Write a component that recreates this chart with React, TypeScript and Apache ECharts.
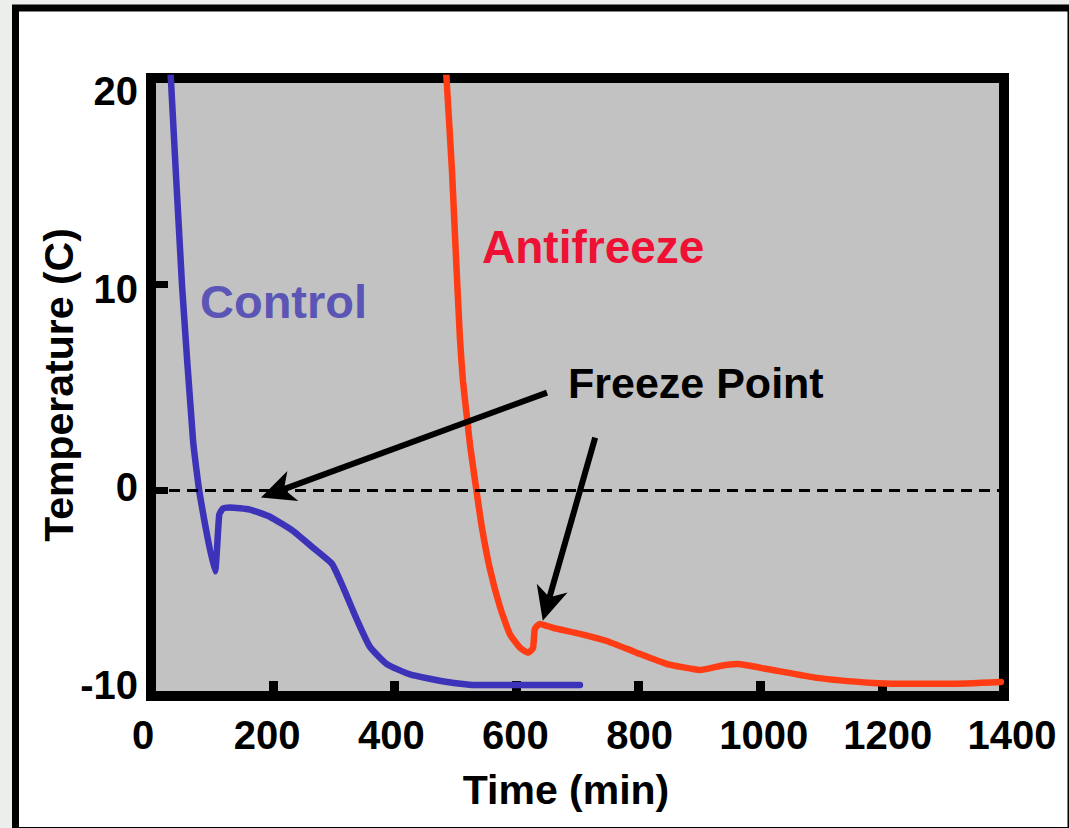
import React, { useEffect, useRef } from "react";
import * as echarts from "echarts";

// ---- data ----
const xTickValues = [0, 200, 400, 600, 800, 1000, 1200, 1400];
const yTickValues = [-10, 0, 10, 20];

const controlTime = [32, 51, 69, 80, 105, 112, 118, 130, 162, 195, 233, 266, 297, 315, 338, 359, 387, 425, 486, 530, 704];
const controlTemp = [20.3, 9.9, 2.4, -0.2, -3.95, -1.2, -0.9, -0.85, -0.95, -1.3, -1.98, -2.8, -3.58, -4.7, -6.3, -7.6, -8.45, -8.95, -9.32, -9.46, -9.46];

const antiTime = [484, 494, 499, 507, 512, 519, 524, 535, 543, 556, 573, 589, 606, 619, 627, 630, 638, 660, 704, 748, 798, 847, 890, 901, 934, 962, 1011, 1093, 1185, 1229, 1311, 1395];
const antiTemp = [20.5, 15.5, 12.3, 7.4, 5.3, 3.4, 2.1, -0.2, -1.8, -3.8, -5.7, -7.0, -7.67, -7.9, -7.67, -6.74, -6.5, -6.69, -6.98, -7.33, -7.91, -8.45, -8.69, -8.74, -8.54, -8.45, -8.69, -9.12, -9.37, -9.41, -9.41, -9.32];

const freezeLevel = 0;

// annotation arrows (data space): from -> to (tip)
const arrowFrom = [[650, 4.73], [729, 2.54]];
const arrowTo = [[180.5, -0.37], [643, -6.35]];

const FONT = '"Liberation Sans", Arial, Helvetica, sans-serif';

export default function App() {
  const ref = useRef<HTMLDivElement>(null);

  useEffect(() => {
    if (!ref.current) return;
    const chart = echarts.init(ref.current, undefined, { renderer: "svg" });

    const xMin = xTickValues[0];
    const xMax = xTickValues[xTickValues.length - 1];
    const yMin = yTickValues[0];
    const yMax = yTickValues[yTickValues.length - 1];

    const textEl = (id: string, text: string, x: number, y: number, size: number, fill: string, align: string, rotation = 0) => ({
      id,
      type: "text",
      z: 100,
      x,
      y,
      rotation,
      silent: true,
      style: {
        text,
        fill,
        font: `bold ${size}px ${FONT}`,
        align,
        verticalAlign: "middle",
        textAlign: align,
        textVerticalAlign: "middle",
      },
    });

    const baseGraphics: any[] = [
      {
        id: "outer",
        type: "rect",
        z: -100,
        silent: true,
        shape: { x: 15.5, y: 8, width: 1071 - 15.5, height: 830.5 - 8 },
        style: { fill: "#ffffff", stroke: "#000000", lineWidth: 7 },
      },
      textEl("ytitle", "Temperature (C)", 59, 385, 41, "#000", "center", Math.PI / 2),
      textEl("xtitle", "Time (min)", 566, 790, 41, "#000", "center"),
      textEl("lblControl", "Control", 200, 301.5, 47, "#5b55b5", "left"),
      textEl("lblAnti", "Antifreeze", 482, 247, 46, "#ee1133", "left"),
      textEl("lblFreeze", "Freeze Point", 568, 383, 43, "#000", "left"),
    ];

    const labelStyle = {
      color: "#000",
      fontWeight: "bold" as const,
      fontSize: 40,
      fontFamily: FONT,
      formatter: (v: number) => String(v),
    };

    chart.setOption({
      animation: false,
      backgroundColor: "#eceeec",
      grid: [
        {
          left: 151,
          top: 78,
          width: 853,
          height: 618,
          show: true,
          backgroundColor: "#c2c2c2",
          borderColor: "#000",
          borderWidth: 10,
          outerBoundsMode: "none",
        },
        {
          left: 143,
          top: 91,
          width: 869,
          height: 594,
          show: false,
          outerBoundsMode: "none",
        },
      ],
      xAxis: [
        {
          gridIndex: 0,
          type: "value",
          position: "bottom",
          min: xMin,
          max: xMax,
          interval: 200,
          axisLine: { show: false, onZero: false },
          axisTick: { show: true, inside: true, length: 15, lineStyle: { color: "#000", width: 9 } },
          axisLabel: { show: false },
          splitLine: { show: false },
        },
        {
          gridIndex: 1,
          type: "value",
          position: "bottom",
          min: xMin,
          max: xMax,
          interval: 200,
          axisLine: { show: false, onZero: false },
          axisTick: { show: false },
          splitLine: { show: false },
          axisLabel: { ...labelStyle, margin: 30 },
        },
      ],
      yAxis: [
        {
          gridIndex: 0,
          type: "value",
          position: "left",
          min: yMin,
          max: yMax,
          interval: 10,
          axisLine: { show: false, onZero: false },
          axisTick: { show: true, inside: true, length: 17, lineStyle: { color: "#000", width: 7 } },
          axisLabel: { show: false },
          splitLine: { show: false },
        },
        {
          gridIndex: 1,
          type: "value",
          position: "left",
          min: yMin,
          max: yMax,
          interval: 10,
          axisLine: { show: false, onZero: false },
          axisTick: { show: false },
          splitLine: { show: false },
          axisLabel: { ...labelStyle, margin: 5 },
        },
      ],
      series: [
        {
          name: "Control",
          type: "line",
          xAxisIndex: 0,
          yAxisIndex: 0,
          data: controlTime.map((t, i) => [t, controlTemp[i]]),
          showSymbol: false,
          symbol: "none",
          smooth: 0.15,
          lineStyle: { color: "#3d33b8", width: 6.5, join: "round", cap: "round" },
          z: 3,
          markLine: {
            silent: true,
            symbol: ["none", "none"],
            label: { show: false },
            lineStyle: { color: "#000", width: 3, type: [11, 7] },
            data: [{ yAxis: freezeLevel }],
          },
        },
        {
          name: "Antifreeze",
          type: "line",
          xAxisIndex: 0,
          yAxisIndex: 0,
          data: antiTime.map((t, i) => [t, antiTemp[i]]),
          showSymbol: false,
          symbol: "none",
          smooth: 0.15,
          lineStyle: { color: "#ff3c14", width: 6.5, join: "round", cap: "round" },
          z: 3,
        },
      ],
      graphic: { elements: baseGraphics },
    });

    // arrows, anchored to data coordinates
    const arrowGraphics: any[] = [];
    arrowFrom.forEach((from, i) => {
      const p0 = chart.convertToPixel({ gridIndex: 0 } as any, from) as number[];
      const p1 = chart.convertToPixel({ gridIndex: 0 } as any, arrowTo[i]) as number[];
      const dx = p1[0] - p0[0];
      const dy = p1[1] - p0[1];
      const len = Math.hypot(dx, dy) || 1;
      const ux = dx / len;
      const uy = dy / len;
      const nx = -uy;
      const ny = ux;
      const L = 34;
      const W = 32;
      const base = [p1[0] - ux * L, p1[1] - uy * L];
      const notch = [p1[0] - ux * L * 0.72, p1[1] - uy * L * 0.72];
      const c1 = [base[0] + (nx * W) / 2, base[1] + (ny * W) / 2];
      const c2 = [base[0] - (nx * W) / 2, base[1] - (ny * W) / 2];
      arrowGraphics.push({
        id: "arrowLine" + i,
        type: "line",
        z: 100,
        silent: true,
        shape: { x1: p0[0], y1: p0[1], x2: notch[0], y2: notch[1] },
        style: { stroke: "#000", lineWidth: 6 },
      });
      arrowGraphics.push({
        id: "arrowHead" + i,
        type: "polygon",
        z: 100,
        silent: true,
        shape: { points: [p1, c1, notch, c2] },
        style: { fill: "#000" },
      });
    });

    chart.setOption({ graphic: { elements: [...baseGraphics, ...arrowGraphics] } });

    return () => {
      chart.dispose();
    };
  }, []);

  return (
    <div
      ref={ref}
      style={{ position: "fixed", left: 0, top: 0, width: 1069, height: 828 }}
    />
  );
}
